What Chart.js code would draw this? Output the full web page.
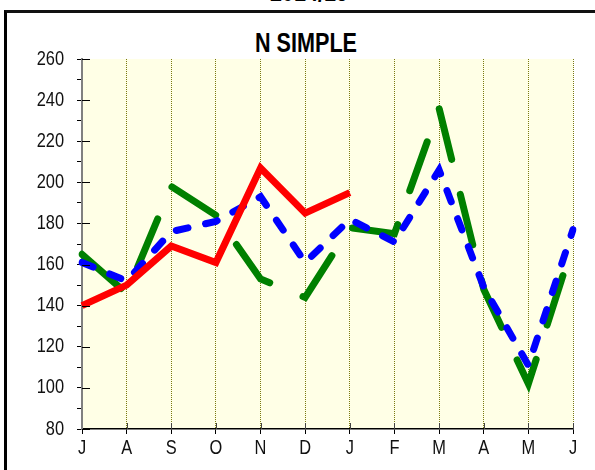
<!DOCTYPE html>
<html>
<head>
<meta charset="utf-8">
<script src="https://cdn.jsdelivr.net/npm/chart.js@4.4.1/dist/chart.umd.min.js"></script>
<style>
  html, body { margin: 0; padding: 0; background: #fff; }
  #wrap { position: relative; width: 595px; height: 470px; overflow: hidden; }
  #frame { position: absolute; left: 4px; top: 10px; width: 700px; height: 600px;
           border-left: 3px solid #000; border-top: 3px solid #111; box-sizing: border-box; }
  .ttl { position: absolute; font-family: 'Liberation Sans', Arial, sans-serif;
         font-weight: bold; color: #000; text-align: center; white-space: nowrap;
         transform: scaleX(0.8); }
  #top { left: 209px; width: 200px; top: -23px; font-size: 27px; line-height: 30px; }
  #main { left: 206px; width: 200px; top: 28px; font-size: 27px; line-height: 30px; }
  canvas { position: absolute; left: 0; top: 0; }
</style>
</head>
<body>
<div id="wrap">
  <div id="frame"></div>
  <div class="ttl" id="top">2014/15</div>
  <div class="ttl" id="main">N SIMPLE</div>
  <canvas id="c" width="595" height="470"></canvas>
</div>
<script>
const categories = ['J','A','S','O','N','D','J','F','M','A','M','J'];
const redSeries   = [140,150,169,161,207,185,195,null,null,null,null,null];
const blueSeries  = [161,152,176,181,193,161,182,171,206,149,111,177];
const greenSeries = [165,146,198,184,153,144,178,175,236,148,102,170];
const yMin = 80, yMax = 260, yMinorStep = 10, yMajorStep = 20;

const FONT = "'Liberation Sans', Arial, sans-serif";
const NARROW = 0.82;

function narrowText(ctx, text, x, y, align, baseline) {
  ctx.save();
  ctx.translate(x, y);
  ctx.scale(NARROW, 1);
  ctx.textAlign = align;
  ctx.textBaseline = baseline;
  ctx.fillText(text, 0, 0);
  ctx.restore();
}

const bgPlugin = {
  id: 'bg',
  beforeDraw(chart) {
    const {ctx, chartArea: a} = chart;
    ctx.save();
    ctx.fillStyle = '#FFFFE6';
    ctx.fillRect(a.left, a.top, a.right - a.left, a.bottom - a.top);
    ctx.restore();
  },
  afterDraw(chart) {
    const {ctx, chartArea: a, scales} = chart;
    const y = scales.y, x = scales.x;
    ctx.save();
    // inner major ticks on the value axis
    ctx.strokeStyle = '#000';
    ctx.lineWidth = 1;
    ctx.beginPath();
    for (let v = yMin; v <= yMax; v += yMajorStep) {
      const py = Math.round(y.getPixelForValue(v)) + 0.5;
      ctx.moveTo(a.left, py); ctx.lineTo(a.left + 8, py);
    }
    ctx.stroke();
    // short inner ticks on the category axis
    ctx.strokeStyle = '#444';
    ctx.beginPath();
    for (let i = 1; i < categories.length; i++) {
      const px = Math.round(x.getPixelForValue(i)) + 0.5;
      ctx.moveTo(px, a.bottom); ctx.lineTo(px, a.bottom - 6);
    }
    ctx.stroke();
    // tick labels (condensed)
    ctx.fillStyle = '#111';
    ctx.font = '20px ' + FONT;
    y.ticks.forEach((t) => {
      if (t.value % yMajorStep === 0) {
        narrowText(ctx, String(t.value), a.left - 18, y.getPixelForValue(t.value), 'right', 'middle');
      }
    });
    x.ticks.forEach((t, i) => {
      narrowText(ctx, categories[t.value], x.getPixelForValue(t.value), a.bottom + 25, 'center', 'alphabetic');
    });
    ctx.restore();
  }
};

new Chart(document.getElementById('c'), {
  type: 'line',
  data: {
    labels: categories,
    datasets: [
      { data: redSeries, borderColor: '#FF0000', borderWidth: 7, pointRadius: 0,
        borderJoinStyle: 'miter', borderCapStyle: 'butt', tension: 0, spanGaps: false },
      { data: blueSeries, borderColor: '#0000FF', borderWidth: 7, pointRadius: 0,
        borderDash: [12, 18], borderJoinStyle: 'miter', borderCapStyle: 'round', tension: 0 },
      { data: greenSeries, borderColor: '#008000', borderWidth: 7, pointRadius: 0,
        borderDash: [52, 36], borderJoinStyle: 'miter', borderCapStyle: 'round', tension: 0 }
    ]
  },
  options: {
    responsive: false,
    animation: false,
    events: [],
    layout: { padding: { top: 59, right: 22, left: 0, bottom: 0 } },
    plugins: { legend: { display: false }, title: { display: false }, tooltip: { enabled: false } },
    scales: {
      x: {
        offset: false,
        afterFit(s) { s.height = 41; },
        grid: { display: true, drawOnChartArea: true, drawTicks: true, tickLength: 5,
                color: '#7A7A10', lineWidth: 1, tickColor: '#000', tickBorderDash: [] },
        border: { display: true, color: '#000', width: 1.5, dash: [1, 1] },
        ticks: { display: false, autoSkip: false, maxRotation: 0 }
      },
      y: {
        min: yMin, max: yMax,
        afterFit(s) { s.width = 82; },
        grid: { display: true, drawOnChartArea: false, drawTicks: true, tickLength: 5,
                color: '#000', tickColor: '#000' },
        border: { display: true, color: '#808080', width: 2 },
        ticks: { display: false, stepSize: yMinorStep, autoSkip: false }
      }
    }
  },
  plugins: [bgPlugin]
});
</script>
</body>
</html>
